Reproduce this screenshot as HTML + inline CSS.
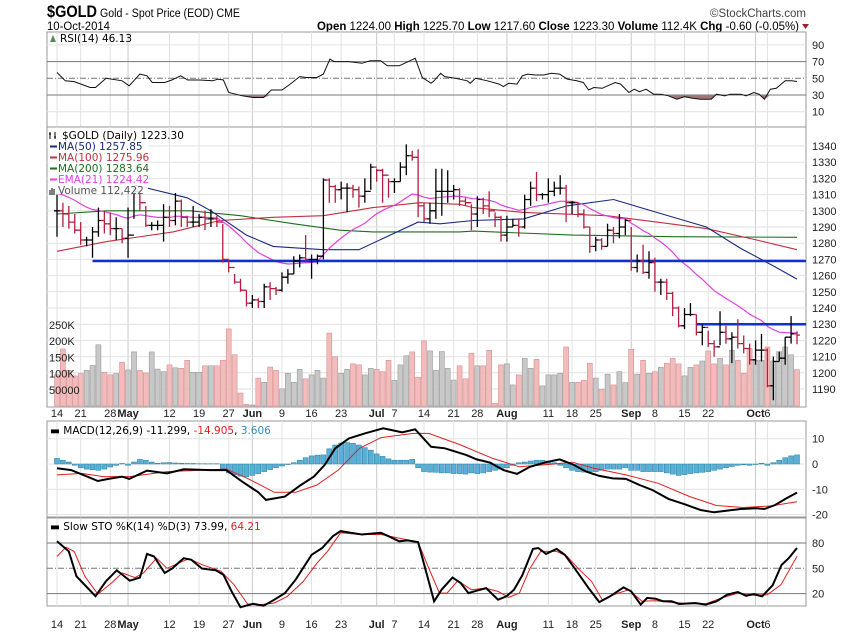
<!DOCTYPE html>
<html><head><meta charset="utf-8"><style>
body{margin:0;background:#fff;}
svg{display:block;font-family:"Liberation Sans",sans-serif;}
.nar{font-family:"Liberation Sans",sans-serif;}
.lg{font-family:"DejaVu Sans",sans-serif;font-size:10.5px;}
.ax{font-size:11px;fill:#222;}
</style></head><body>
<svg id="chart" width="850" height="633" viewBox="0 0 850 633" xmlns="http://www.w3.org/2000/svg">
<rect x="0" y="0" width="850" height="633" fill="#fff"/>
<g>
<text x="47" y="17" font-size="17" font-weight="bold" class="nar" textLength="50" lengthAdjust="spacingAndGlyphs">$GOLD</text>
<text x="100" y="17" font-size="11.5" class="nar" textLength="140" lengthAdjust="spacingAndGlyphs">Gold - Spot Price (EOD) CME</text>
<text x="47" y="30" font-size="11.5" class="nar" textLength="63" lengthAdjust="spacingAndGlyphs">10-Oct-2014</text>
<text x="806" y="17" font-size="11.5" text-anchor="end" class="nar" fill="#444">©StockCharts.com</text>
<text x="317" y="30" font-size="11.5" class="nar" textLength="482" lengthAdjust="spacingAndGlyphs"><tspan font-weight="bold">Open</tspan> 1224.00 <tspan font-weight="bold">High</tspan> 1225.70 <tspan font-weight="bold">Low</tspan> 1217.60 <tspan font-weight="bold">Close</tspan> 1223.30 <tspan font-weight="bold">Volume</tspan> 112.4K <tspan font-weight="bold">Chg</tspan> -0.60 (-0.05%)</text>
<path d="M802 24 L809 24 L805.5 29 Z" fill="#a02030"/>
</g>
<g id="layer"></g>
</svg>
<script>
// ---------- data ----------
const closes=[1300,1298,1293,1288,1282,1282,1287,1294,1292,1289,1289,1283,1285,1312,1305,1291,1291,1291,1296,1294,1306,1296,1293,1293,1296,1295,1295,1293,1270,1265,1256,1251,1243,1245,1244,1253,1252,1251,1259,1261,1269,1271,1270,1270,1272,1319,1315,1313,1314,1314,1313,1309,1312,1327,1325,1322,1318,1318,1327,1334,1333,1303,1295,1300,1312,1312,1312,1313,1306,1305,1298,1307,1303,1300,1296,1285,1290,1291,1290,1307,1314,1310,1310,1312,1314,1314,1305,1305,1298,1290,1278,1282,1278,1288,1286,1290,1294,1265,1269,1262,1268,1256,1256,1249,1240,1229,1236,1236,1225,1228,1218,1216,1225,1221,1222,1218,1215,1208,1214,1214,1192,1207,1209,1222,1224,1223.3];
const highs=[1310,1305,1303,1298,1293,1284,1290,1302,1300,1299,1296,1289,1302,1315,1313,1303,1293,1294,1304,1303,1311,1307,1297,1303,1298,1300,1301,1297,1292,1270,1261,1258,1251,1248,1246,1255,1256,1253,1262,1264,1272,1273,1285,1273,1273,1320,1320,1316,1318,1317,1316,1315,1320,1329,1326,1326,1320,1320,1330,1341,1337,1338,1305,1305,1326,1326,1325,1316,1314,1308,1304,1309,1308,1312,1299,1297,1297,1295,1295,1310,1318,1324,1311,1320,1318,1322,1316,1306,1305,1301,1290,1284,1283,1292,1290,1298,1295,1290,1273,1279,1275,1271,1258,1258,1250,1241,1240,1243,1236,1230,1226,1220,1238,1229,1225,1233,1223,1218,1220,1224,1215,1210,1213,1222,1235,1225.7];
const lows=[1284,1290,1289,1286,1279,1278,1271,1284,1286,1285,1282,1280,1271,1295,1300,1290,1288,1288,1281,1290,1291,1290,1290,1290,1290,1288,1290,1290,1268,1262,1255,1250,1241,1240,1240,1240,1245,1248,1250,1255,1261,1265,1268,1258,1267,1270,1305,1305,1307,1299,1308,1302,1305,1313,1318,1305,1308,1311,1318,1322,1331,1296,1293,1292,1295,1297,1305,1307,1303,1303,1288,1290,1298,1296,1290,1281,1281,1290,1284,1289,1303,1306,1307,1305,1309,1310,1293,1298,1296,1289,1274,1275,1276,1278,1280,1283,1285,1263,1262,1261,1258,1250,1248,1245,1235,1228,1227,1235,1223,1217,1216,1210,1217,1218,1206,1215,1212,1205,1205,1207,1191,1183,1207,1205,1218,1217.6];
const volumesK=[96,176,110,93,100,110,125,189,104,96,100,135,111,167,110,102,167,114,106,127,118,116,141,104,104,124,124,124,141,238,158,40,5,3,86,73,120,110,53,101,73,113,84,96,110,86,225,152,101,113,130,127,96,116,113,106,141,79,127,155,167,89,201,170,110,168,116,80,124,84,163,124,124,172,8,127,130,65,96,147,116,144,62,96,96,101,182,73,73,79,132,86,52,98,65,106,72,175,98,141,101,106,119,132,147,130,93,119,127,139,170,130,147,127,172,141,101,178,141,141,182,139,168,182,158,112.4];
const ma50Idx=[13,22,26,32,36.5,45,51,61,64.7,70.3,78.8,86.1,94,101.3,109.7,115.4,121,125];
const ma50Val=[1316,1308,1300,1285,1278,1276,1276,1293,1292,1294,1295,1303,1307,1299,1290,1277,1266,1257.85];
const ma100Idx=[0,8.4,19.6,27.5,36.5,45,53.4,61.3,68,70.3,78.8,92.9,101.3,109.7,118.2,125];
const ma100Val=[1275,1281,1287,1294,1296,1297,1302,1305,1304,1302,1299,1297,1293,1289,1282,1275.96];
const ma200Idx=[0,8.4,22.5,31,40,47.8,53.4,68,70.3,87.2,104,125];
const ma200Val=[1298,1300,1300,1297,1292,1288,1287,1287,1287.5,1285,1284,1283.64];
const emaSeed=1311;
const hLineA=[6,1269], hLineB=[108,1230];
const rsiIdx=[0,1.4,2.9,5.6,6.5,8.3,11,12.2,14,15.2,16.1,18.2,19.4,20.9,22.1,24.1,26.3,27.2,28.1,29,31.3,33.1,34.9,36.2,38,39.4,41,42.1,43.9,45,46.1,46.8,49.3,51.5,52.9,54.7,55.8,57.8,58.7,60.5,61.7,63.2,63.7,64.8,65.5,67.3,69.3,69.8,70.7,72.7,74.7,75.4,76.3,77.7,78.6,79.5,80.8,82.2,83.5,84.9,86.2,87.8,88.9,89.8,90.7,92.1,93,94.3,95.2,96.6,97.5,98.4,99.5,100.8,102,103.3,104.7,106,107.4,108.7,110.5,111.4,112.8,113.7,115.5,116.4,117.7,118.6,119.5,120.5,121.5,123,124.1,125];
const rsiVal=[57,47,46,39,39,50,47,41,55,53,45,45,48,53,48,48,47,49,48,33,29,27,27,36,36,43,52,51,51,55,73,70,70,68,71,71,65,65,68,74,51,44,47,56,52,50,47,44,50,47,43,40,44,43,53,55,54,54,56,55,49,47,45,36,39,38,41,45,43,33,37,34,37,31,31,29,25,28,26,25,25,31,29,31,31,29,33,31,25,37,38,47,47,46.13];
const macdIdx=[0,2.4,5.1,6.9,8.7,11,12.2,15.2,18.6,21.4,25.9,28.6,31.3,34,35.3,38.5,41.2,43.4,45.2,47,49.3,52,55.1,58.3,60.5,63.2,65.5,69.1,70.9,73.2,75.4,77.7,79.9,82.6,84.9,87.1,89.4,91.6,93.9,96.1,98.4,100.6,103.3,106,108.7,111,113.2,115.5,118.2,119.5,121.3,123.2,125];
const macdVal=[-1.7,-2.4,-5,-6.7,-5.9,-5,-5.9,-2.6,-3.7,-2.1,-2.4,-2.4,-7,-11.2,-14.2,-12.9,-8.3,-5,-0.4,6.2,10.1,12.1,14.1,12.5,13.7,6.8,6.2,3.6,1.8,0.5,-2.4,-3.9,-1.1,0.7,1.8,-0.1,-3,-4.7,-5.7,-5.9,-8.3,-10.3,-13.8,-15.9,-18.2,-19.1,-18.4,-17.8,-17.5,-17.8,-16.2,-13.6,-11.3];
const sigIdx=[0,4.2,7.8,12.3,18.6,28.6,32.2,36.7,40.3,43.9,47.5,51.1,54.7,60.1,62.8,68.2,73.6,78.1,83.5,87.1,90.7,96.1,101.5,106.9,111.4,115.9,120.5,125];
const sigVal=[-4.3,-3.7,-5,-5,-3,-2,-5.7,-11.2,-11.2,-8.3,-2.4,6.2,10.4,12.1,12.1,7.5,2.2,-1.1,-0.1,0.7,-1.7,-4.3,-7.6,-12.9,-16.4,-17.2,-16.6,-14.9];
const histVal=[2.2,1.5,0.8,-0.5,-1.5,-2.0,-2.3,-2.5,-2.0,-1.2,-0.5,0.2,-0.5,0.8,1.8,1.5,0.8,0.3,0.5,0.6,0.4,0.3,0.2,0.2,0.1,0.1,0.1,0.1,-2.0,-3.5,-4.2,-4.8,-5.0,-4.5,-3.8,-3.0,-2.2,-1.5,-0.8,-0.2,0.5,1.5,2.5,3.2,3.5,3.6,6.0,7.5,8.3,8.5,8.2,7.5,6.5,5.5,4.0,3.0,2.0,1.5,1.5,1.5,1.8,-1.5,-3.0,-3.2,-3.3,-3.5,-3.5,-3.8,-3.8,-4.0,-3.5,-3.8,-3.5,-3.0,-2.5,-2.0,-1.5,-0.5,0.5,0.8,1.2,1.5,1.5,1.2,0.5,-0.5,-1.5,-2.5,-3.0,-3.2,-3.0,-3.0,-2.5,-2.0,-2.0,-2.0,-1.5,-2.5,-2.5,-3.0,-3.0,-3.0,-3.0,-3.5,-4.0,-4.5,-4.2,-3.8,-3.5,-3.3,-3.0,-2.5,-2.0,-1.5,-1.0,-0.5,-0.3,-0.5,-0.2,0.3,-0.5,0.5,1.5,2.5,3.2,3.606];
const stoKIdx=[0,2,3.3,6.5,8.3,10.1,12.3,14,15.2,16.4,18.2,19.5,21.4,22.7,24.5,26.8,28.1,29.5,31,33.1,34.9,36.7,38.5,40.3,43,44.8,46.6,47.9,49.7,51.5,54.7,56,57.8,59.2,61,63.7,65,66.8,68.2,69.5,70.9,72.5,74.5,75.9,77.2,78.6,80.4,81.3,82.6,84.4,85.8,87.6,89.8,91.6,93.4,95.7,97,98.6,99.7,101.1,102.4,103.8,105.1,107.8,109.6,111.4,113.2,115,116.4,117.7,119.1,120.9,122.4,123.6,125];
const stoKVal=[82,70,40.5,17,35,47.6,35.3,39,67,64,44.4,50,62,60,49.6,47.6,42.4,22.7,4,8,5.7,12.8,20.7,36.5,66,74,88,94,92,90,92,88,82,83,81,11,25,39,32.6,20.7,23.5,26.6,12.8,16.8,24.7,41.7,73,74,67,73,66,48.4,26.6,10,16.8,27.4,22.7,7,15,14,11,11,7.7,8.9,7,11,18.7,22,17.5,19.5,16.8,30,54,62,73.99];
const stoDIdx=[0,1.5,2.9,4.7,6.9,9.2,11,13.2,14.6,16.8,18.6,20.5,22.3,24.5,27.7,29.9,32.2,34.4,36.7,38.9,41.6,43.9,45.7,47.9,51.1,54.7,58.3,61,62.8,64.6,65.9,67.7,70,72.3,74.5,76.3,78.1,79.9,81.7,84.4,86.2,88,90.3,92.1,94.3,96.6,98.8,101.1,103.3,106.9,109.6,112.3,115,117.7,120,122.3,125];
const stoDVal=[64,75,70,40.5,19.5,32.6,44.4,39,44.4,62,50,56,61.4,54.3,46.4,30.6,7.7,7,8.9,16.8,34.5,56,70,92,90,90,85,81,50,20.7,20.7,35.3,24.7,26.6,22.7,15.6,20.7,50,70,70,64,50,34.5,12.8,19.5,24.7,11,11.6,10,8,8,15,20.7,18,18.7,30.6,64.21];
const dateLabels=["14","21","28","May","12","19","27","Jun","9","16","23","Jul","7","14","21","28","Aug","11","18","25","Sep","8","15","22","Oct","6"];
const dateIdx=[0,4,9,12,19,24,29,33,38,43,48,54,57,62,67,71,76,83,87,91,97,101,106,110,118,120];
const priceTicks=[1190,1200,1210,1220,1230,1240,1250,1260,1270,1280,1290,1300,1310,1320,1330,1340];
const volTicks=[50,100,150,200,250];
const volTickLabels=["50000","100K","150K","200K","250K"];
const rsiTicks=[10,30,50,70,90];
const macdTicks=[10,0,-10,-20];
const stoTicks=[20,50,80];

// ---------- layout ----------
const L=47,R=806;
const P={rsi:[32,127],price:[127,407],macd:[421,517],sto:[518,606]};
const X=i=>57+i*5.92;
const yPrice=v=>146+(1340-v)*1.62;
const yVol=v=>406-v*0.324;
const yRsi=v=>78.3-(v-50)*0.835;
const yMacd=v=>464-v*2.53;
const ySto=v=>568.3-(v-50)*0.845;
const NS="http://www.w3.org/2000/svg";
const layer=document.getElementById('layer');
function mk(tag,attrs,parent){const e=document.createElementNS(NS,tag);for(const k in attrs)e.setAttribute(k,attrs[k]);(parent||layer).appendChild(e);return e;}
function grp(){const g=document.createElementNS(NS,'g');layer.appendChild(g);return g;}
function pts(idx,val,fy){return idx.map((d,k)=>X(d).toFixed(1)+','+fy(val[k]).toFixed(1)).join(' ');}

for(const key in P){
  const [t,b]=P[key];
  const g=grp();
  
  
  mk('rect',{x:L,y:t,width:R-L,height:b-t,fill:'#fff',stroke:'#999','stroke-width':1},g);
  dateIdx.forEach((d,k)=>{
    const month=isNaN(+dateLabels[k]);
    const ln=mk('line',{x1:X(d),x2:X(d),y1:t,y2:b,stroke:month?'#c8c8c8':'#e2e2e2','stroke-width':1},g);
    
    
  });
}
priceTicks.forEach(v=>{
  const ln=mk('line',{x1:L,x2:R,y1:yPrice(v),y2:yPrice(v),stroke:'#e2e2e2'});
  
  
  const t=mk('text',{x:812,y:yPrice(v)+4,class:'ax'});t.textContent=v;
  
  
});
rsiTicks.forEach(v=>{
  const major=(v===30||v===70);
  const ln=mk('line',{x1:L,x2:R,y1:yRsi(v),y2:yRsi(v),stroke:major?'#777':(v===50?'#777':'#e2e2e2'),'stroke-dasharray':v===50?'6,2,1,2':'none'});
  
  
  const t=mk('text',{x:812,y:yRsi(v)+4,class:'ax'});t.textContent=v;
  
  
});
macdTicks.forEach(v=>{
  const ln=mk('line',{x1:L,x2:R,y1:yMacd(v),y2:yMacd(v),stroke:'#e2e2e2'});
  
  
  const t=mk('text',{x:812,y:yMacd(v)+4,class:'ax'});t.textContent=v;
  
  
});
stoTicks.forEach(v=>{
  const ln=mk('line',{x1:L,x2:R,y1:ySto(v),y2:ySto(v),stroke:'#777','stroke-dasharray':v===50?'6,2,1,2':'none'});
  
  
  const t=mk('text',{x:812,y:ySto(v)+4,class:'ax'});t.textContent=v;
  
  
});
[413,624].forEach(yy=>{
  dateLabels.forEach((s,k)=>{
    const month=isNaN(+s);
    const t=mk('text',{x:X(dateIdx[k]),y:yy+4,'text-anchor':'middle',class:'ax','font-weight':month?'bold':'normal'});
    t.textContent=s;
    
    
  });
});

{
  const g=grp();
  
  
  const y30=yRsi(30);
  let d='M'+X(rsiIdx[0])+','+y30;
  rsiIdx.forEach((i,k)=>{d+=' L'+X(i).toFixed(1)+','+Math.max(y30,yRsi(rsiVal[k])).toFixed(1);});
  d+=' L'+X(rsiIdx[rsiIdx.length-1])+','+y30+' Z';
  mk('path',{d:d,fill:'#a07878',stroke:'none'},g);
  mk('polyline',{points:pts(rsiIdx,rsiVal,yRsi),fill:'none',stroke:'#111','stroke-width':1},g);
}
const rl=mk('text',{x:60,y:42,class:'lg'});rl.textContent='RSI(14) 46.13';


mk('path',{d:'M50 42 L53 35 L56 42 Z',fill:'#5a8a5a'});

{
  const g=grp();
  
  
  volumesK.forEach((v,i)=>{
    const up=i===0?false:closes[i]>=closes[i-1];
    const r=mk('rect',{x:(X(i)-2.5).toFixed(1),y:yVol(v).toFixed(1),width:5,height:(406-yVol(v)).toFixed(1),fill:up?'#c8c8c8':'#f2bcbc',stroke:up?'#9a9a9a':'#d89090','stroke-width':0.6},g);
    
    
  });
  volTicks.forEach((v,k)=>{
    const t=mk('text',{x:49,y:yVol(v)+4,class:'ax'},g);t.textContent=volTickLabels[k];
    
    
  });
}

function line(idx,val,color,w,name){
  const p=mk('polyline',{points:pts(idx,val,yPrice),fill:'none',stroke:color,'stroke-width':w});
  
  
}
line(ma200Idx,ma200Val,'#1e6e1e',1.1,'ma200-line');
line(ma100Idx,ma100Val,'#c03040',1.1,'ma100-line');
line(ma50Idx,ma50Val,'#1a2a80',1.1,'ma50-line');
{
  const emaIdx=[],emaVal=[];let e=emaSeed;const a=2/22;
  closes.forEach((c,i)=>{e=i===0?emaSeed:e+a*(c-e);emaIdx.push(i);emaVal.push(e);});
  line(emaIdx,emaVal,'#e040e0',1.2,'ema21-line');
}
[hLineA,hLineB].forEach(h=>{
  const ln=mk('line',{x1:X(h[0]),x2:R,y1:yPrice(h[1]),y2:yPrice(h[1]),stroke:'#1030d0','stroke-width':2.5});
  
  
});
{
  const g=grp();
  
  
  closes.forEach((c,i)=>{
    const o=i===0?c:closes[i-1];
    const col=c<o?'#b02040':'#000';
    const x=X(i);
    const p=mk('path',{d:`M${x},${yPrice(highs[i]).toFixed(1)} V${yPrice(lows[i]).toFixed(1)} M${x-3},${yPrice(o).toFixed(1)} H${x} M${x},${yPrice(c).toFixed(1)} H${x+3}`,stroke:col,'stroke-width':1.3,fill:'none'},g);
    
    
  });
}
{
  const g=grp();
  
  
  mk('rect',{x:48,y:128,width:100,height:66,fill:'#fff','fill-opacity':0.85},g);
  const items=[['$GOLD (Daily) 1223.30','#000',null],['MA(50) 1257.85','#1a2a80','#1a2a80'],['MA(100) 1275.96','#c03040','#c03040'],['MA(200) 1283.64','#1e6e1e','#1e6e1e'],['EMA(21) 1224.42','#e040e0','#e040e0'],['Volume 112,422','#555',null]];
  items.forEach((it,k)=>{
    const y=139+k*11;
    if(it[2]) mk('line',{x1:50,x2:57,y1:y-3.5,y2:y-3.5,stroke:it[2],'stroke-width':2},g);
    const t=mk('text',{x:k===0?62:58,y:y,class:'lg',fill:it[1]},g);t.textContent=it[0];
    
    
  });
  mk('path',{d:'M50 195 V190 M52 195 V188 M54 195 V189',stroke:'#555','stroke-width':1.5},g);
  mk('path',{d:'M50 139 V132 M49 134 H51 M55 139 V132 M54 137 H56',stroke:'#000','stroke-width':1},g);
}

{
  const g=grp();
  
  
  histVal.forEach((v,i)=>{
    const y0=yMacd(0),y1=yMacd(v);
    const r=mk('rect',{x:(X(i)-2.5).toFixed(1),y:Math.min(y0,y1).toFixed(1),width:5,height:Math.abs(y1-y0).toFixed(1),fill:'#58b0d6',stroke:'#2a7ca4','stroke-width':0.5},g);
    
    
  });
  mk('polyline',{points:pts(sigIdx,sigVal,yMacd),fill:'none',stroke:'#e02020','stroke-width':1},g);
  mk('polyline',{points:pts(macdIdx,macdVal,yMacd),fill:'none',stroke:'#000','stroke-width':2},g);
  const t=mk('text',{x:50,y:434,class:'lg'},g);
  t.innerHTML='<tspan font-weight="bold">▬</tspan> MACD(12,26,9) -11.299, <tspan fill="#e02020">-14.905</tspan>, <tspan fill="#2a8cc0">3.606</tspan>';
  
  
}
{
  const g=grp();
  
  
  mk('polyline',{points:pts(stoDIdx,stoDVal,ySto),fill:'none',stroke:'#e02020','stroke-width':1},g);
  mk('polyline',{points:pts(stoKIdx,stoKVal,ySto),fill:'none',stroke:'#000','stroke-width':2},g);
  const t=mk('text',{x:50,y:530,class:'lg'},g);
  t.innerHTML='<tspan font-weight="bold">▬</tspan> Slow STO %K(14) %D(3) 73.99, <tspan fill="#e02020">64.21</tspan>';
  
  
}
</script>
</body></html>
